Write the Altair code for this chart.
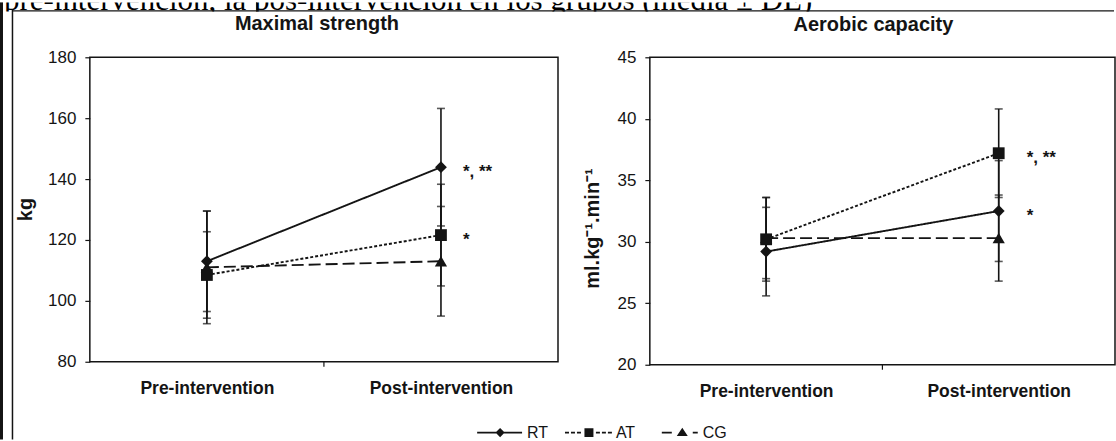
import altair as alt
import pandas as pd

FONT = "Liberation Sans"
INK = "#141414"

# ---------------- data ----------------
header_text = "pre-intervención, la pos-intervención en los grupos (media ± DE)"
times = ["Pre-intervention", "Post-intervention"]
groups = ["RT", "AT", "CG"]

# Maximal strength (kg): mean and SD per group
str_pre_mean = [113.0, 108.5, 111.0]
str_pre_sd = [16.5, 14.2, 18.5]
str_post_mean = [143.9, 121.6, 113.0]
str_post_sd = [19.3, 16.7, 18.0]
str_marks = ["*, **", "*", ""]

# Aerobic capacity (ml.kg-1.min-1): mean and SD per group
aer_pre_mean = [29.2, 30.2, 30.3]
aer_pre_sd = [3.6, 3.4, 3.3]
aer_post_mean = [32.5, 37.2, 30.3]
aer_post_sd = [4.1, 3.6, 3.5]
aer_marks = ["*", "*, **", ""]

# ---------------- styles ----------------
shapes = ["diamond", "square", "triangle-up"]
marker_sizes = [140, 140, 150]
dashes = [[1, 0], [3, 2], [12, 5]]

# legend glyphs (line + marker) drawn as filled custom symbol paths, in px around the symbol centre
U = 24.0  # half of sqrt(symbol size)


def _rect(x0, x1, h=0.9):
    a, b, c = x0 / U, x1 / U, h / U
    return f"M{a:.4f},{-c:.4f}L{b:.4f},{-c:.4f}L{b:.4f},{c:.4f}L{a:.4f},{c:.4f}Z"


def _poly(pts):
    s = "M" + "L".join(f"{x / U:.4f},{y / U:.4f}" for x, y in pts)
    return s + "Z"


_anchor = "M-1,0L-1,0ZM1,0L1,0Z"
legend_paths = [
    _anchor + _rect(-23, 22) + _poly([(0, -4.6), (4.6, 0), (0, 4.6), (-4.6, 0)]),
    _anchor + "".join(_rect(a, b) for a, b in [(-24, -20), (-18, -14), (-12, -8), (7, 11), (13, 17), (19, 23)])
    + _poly([(-4.5, -4.5), (4.5, -4.5), (4.5, 4.5), (-4.5, 4.5)]),
    _anchor + _rect(-14, -4) + _rect(17, 22) + _poly([(6.5, -5), (12, 3.5), (1, 3.5)]),
]


def panel_frame(pre_m, pre_s, post_m, post_s):
    rows = []
    for i, g in enumerate(groups):
        rows.append({"group": g, "time": times[0], "mean": pre_m[i], "sd": pre_s[i]})
        rows.append({"group": g, "time": times[1], "mean": post_m[i], "sd": post_s[i]})
    return pd.DataFrame(rows)


def ann_frame(post_m, marks):
    rows = []
    for i, g in enumerate(groups):
        if marks[i]:
            rows.append({"group": g, "time": times[1], "mean": post_m[i], "label": marks[i]})
    return pd.DataFrame(rows)


one = pd.DataFrame({"k": [0]})


def make_panel(df, ann, ydomain, yvalues, width, height, title, title_dx, title_offset,
               ytitle, ytitle_pad, ytitle_y, ann_dx, pin_x, with_legend):
    xenc = alt.X(
        "time:N", sort=times,
        scale=alt.Scale(type="point", padding=0.5, domain=times),
        axis=alt.Axis(title=None, labelAngle=0, ticks=False, domain=False,
                      labelFont=FONT, labelFontSize=17.5, labelFontWeight="bold",
                      labelColor=INK, labelPadding=18),
    )

    def yenc(field):
        return alt.Y(
            field, type="quantitative",
            scale=alt.Scale(domain=ydomain, nice=False, zero=False),
            axis=alt.Axis(values=yvalues, title=ytitle, grid=False, domain=False,
                          tickSize=5, tickColor=INK, tickWidth=1.2,
                          labelFont=FONT, labelFontSize=17, labelColor=INK, labelPadding=9,
                          titleFont=FONT, titleFontSize=20, titleFontWeight="bold",
                          titleColor=INK, titlePadding=ytitle_pad, titleY=ytitle_y),
        )

    base = alt.Chart(df).transform_calculate(lo="datum.mean - datum.sd", hi="datum.mean + datum.sd")
    layers = []
    for i, g in enumerate(groups):
        layers.append(
            base.transform_filter(alt.datum.group == g)
            .mark_line(color=INK, strokeWidth=1.9, strokeDash=dashes[i])
            .encode(x=xenc, y=yenc("mean"))
        )
    layers.append(base.mark_rule(color=INK, strokeWidth=1.6).encode(x=xenc, y=yenc("lo"), y2="hi:Q"))
    layers.append(base.mark_tick(orient="horizontal", size=8, thickness=1.6, color=INK).encode(x=xenc, y=yenc("lo")))
    layers.append(base.mark_tick(orient="horizontal", size=8, thickness=1.6, color=INK).encode(x=xenc, y=yenc("hi")))
    for i, g in enumerate(groups):
        layers.append(
            base.transform_filter(alt.datum.group == g)
            .mark_point(shape=shapes[i], filled=True, color=INK, size=marker_sizes[i], opacity=1)
            .encode(x=xenc, y=yenc("mean"))
        )
    layers.append(
        alt.Chart(ann).mark_text(font=FONT, fontSize=17, fontWeight="bold", color=INK,
                                 align="left", baseline="alphabetic", dx=ann_dx, dy=10)
        .encode(x=xenc, y=yenc("mean"), text="label:N")
    )
    if with_legend:
        leg = alt.Legend(orient="none", legendX=477, legendY=407, direction="horizontal",
                         title=None, labelFont=FONT, labelFontSize=16, labelColor=INK,
                         labelOffset=3, columnPadding=16, symbolSize=2304,
                         symbolStrokeWidth=0, symbolFillColor=INK, symbolOpacity=1, padding=0)
        layers.append(
            alt.Chart(df).transform_filter("false")
            .mark_point(filled=True, color=INK, size=2304, opacity=1)
            .encode(
                x=xenc, y=yenc("mean"),
                shape=alt.Shape("group:N", scale=alt.Scale(domain=groups, range=legend_paths), legend=leg),
            )
        )
    # middle category-separator tick on the x axis
    layers.append(
        alt.Chart(one).mark_rule(color=INK, strokeWidth=1.2)
        .encode(x=alt.value(width / 2), y=alt.value(height), y2=alt.value(height + 5))
    )
    # invisible pin that fixes the panel's left edge
    layers.append(
        alt.Chart(one).mark_rule(color="white", strokeWidth=1, opacity=0)
        .encode(x=alt.value(pin_x), y=alt.value(0), y2=alt.value(1))
    )
    return alt.layer(*layers).properties(
        width=width, height=height,
        title=alt.TitleParams(title, font=FONT, fontSize=20, fontWeight="bold", color=INK,
                              anchor="middle", frame="group", dx=title_dx, offset=title_offset),
        view=alt.ViewBackground(stroke=INK, strokeWidth=1.5),
    )


left = make_panel(
    panel_frame(str_pre_mean, str_pre_sd, str_post_mean, str_post_sd),
    ann_frame(str_post_mean, str_marks),
    [80, 180], [80, 100, 120, 140, 160, 180], 469, 305,
    "Maximal strength", -7, 14, "kg", 12, 152, 22, -75, True,
)
right = make_panel(
    panel_frame(aer_pre_mean, aer_pre_sd, aer_post_mean, aer_post_sd),
    ann_frame(aer_post_mean, aer_marks),
    [20, 45], [20, 25, 30, 35, 40, 45], 466, 308,
    "Aerobic capacity", -9, 13, "ml.kg⁻¹.min⁻¹", 15, 171, 28, -90, False,
)

# page frame pieces (scanned document border); origin is level with the plot tops
frame = alt.layer(
    alt.Chart(one).mark_rule(color=INK, strokeWidth=3).encode(x=alt.value(1.5), y=alt.value(-48), y2=alt.value(383)),
    alt.Chart(one).mark_rule(color=INK, strokeWidth=1.5).encode(x=alt.value(12.5), y=alt.value(-48), y2=alt.value(383)),
).properties(width=13, height=305, view=alt.ViewBackground(stroke=None))

header = alt.layer(
    alt.Chart(pd.DataFrame({"t": [header_text]}))
    .mark_text(font="Liberation Serif", fontSize=31, align="left", baseline="alphabetic", color="black", clip=True)
    .encode(text="t:N", x=alt.value(4), y=alt.value(7.5)),
    alt.Chart(one).mark_rule(color=INK, strokeWidth=1.2).encode(x=alt.value(13), x2=alt.value(1116), y=alt.value(8.5)),
    alt.Chart(one).mark_rule(color=INK, strokeWidth=3).encode(x=alt.value(1.5), y=alt.value(0), y2=alt.value(9)),
    alt.Chart(one).mark_rule(color=INK, strokeWidth=1).encode(x=alt.value(257), y=alt.value(0), y2=alt.value(9)),
).properties(width=1116, height=9, view=alt.ViewBackground(stroke=None))

body = alt.hconcat(frame, left, right, spacing=0)
chart = (
    alt.vconcat(header, body, spacing=-6)
    .properties(padding=0, background="white")
    .configure_view(stroke=None)
)

chart.save("out.html", embed_options={"renderer": "svg", "actions": False})
